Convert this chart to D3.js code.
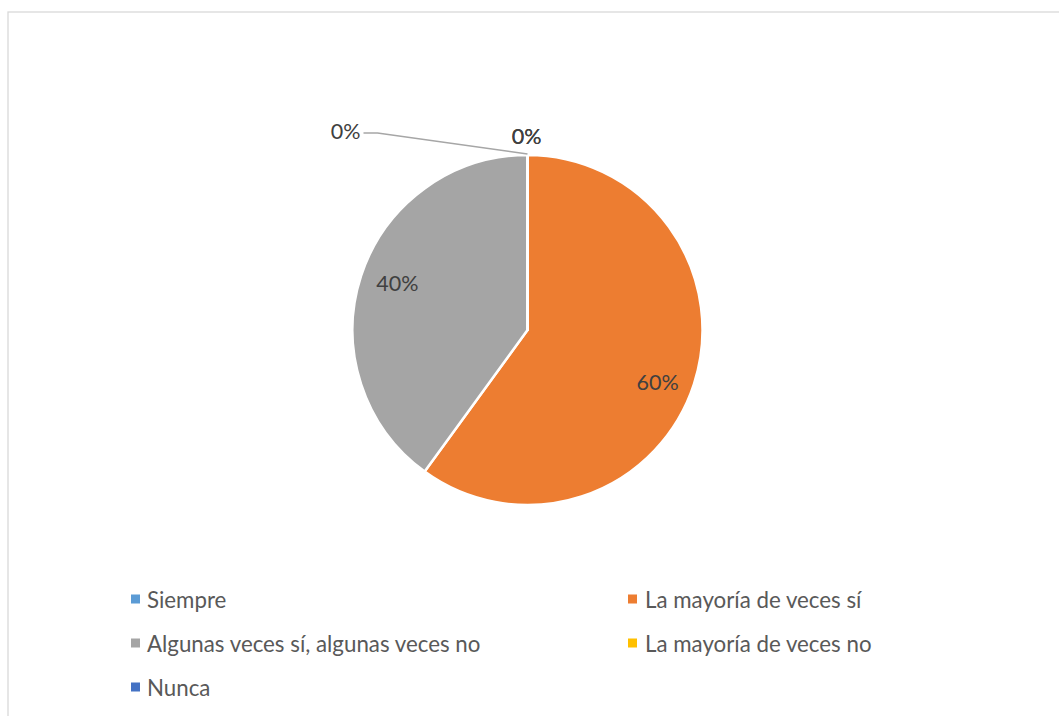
<!DOCTYPE html>
<html><head><meta charset="utf-8">
<script src="https://cdn.jsdelivr.net/npm/d3@7"></script>
<style>
html,body{margin:0;padding:0;background:#fff;}
svg{display:block;}
text{font-family:Lato, "Open Sans", sans-serif;}
</style></head>
<body>
<svg id="chart" width="1059" height="716"></svg>
<script>
const categories = ["Siempre","La mayoría de veces sí","Algunas veces sí, algunas veces no","La mayoría de veces no","Nunca"];
const values = [0, 60, 40, 0, 0];
const labels = ["0%","60%","40%","0%","0%"];
const colors = ["#5B9BD5","#ED7D31","#A5A5A5","#FFC000","#4472C4"];

const svg = d3.select("#chart");
const W = 1059, H = 716;

// frame
svg.append("rect").attr("x",8).attr("y",12).attr("width",W+10).attr("height",H+10)
  .attr("fill","#fff").attr("stroke","#D9D9D9").attr("stroke-width",1.3);

const cx = 527.5, cy = 330, R = 175;
const pie = d3.pie().value(d=>d).sort(null);
const arcs = pie(values);
const arc = d3.arc().innerRadius(0).outerRadius(R);
const g = svg.append("g").attr("transform",`translate(${cx},${cy})`);

g.selectAll("path").data(arcs).enter().append("path")
  .attr("d",arc).attr("fill",(d,i)=>colors[i])
  .attr("stroke","#fff").attr("stroke-width",2.5).attr("stroke-linejoin","round");

const fs = 21.5;
const labelArc = d3.arc().innerRadius(140).outerRadius(140);
// inside labels for non-zero slices (best-fit nudge)
const nudge = {1:[-3,9],2:[3,-4]};
arcs.forEach((a,i)=>{
  if(values[i]>0){
    const c = labelArc.centroid(a);
    const n = nudge[i]||[0,0];
    g.append("text").attr("x",c[0]+n[0]).attr("y",c[1]+n[1])
      .attr("text-anchor","middle").attr("dominant-baseline","central")
      .attr("font-size",fs).attr("fill","#404040").text(labels[i]);
  }
});
// zero slices: outside labels
const outArc = d3.arc().innerRadius(R+18).outerRadius(R+18);
[0,3].forEach(i=>{
  const c = outArc.centroid(arcs[i]);
  g.append("text").attr("x",c[0]-1).attr("y",c[1]-1)
    .attr("text-anchor","middle").attr("dominant-baseline","central")
    .attr("font-size",fs).attr("fill","#404040").text(labels[i]);
});
// moved label with leader line (Nunca)
{
  const i = 4;
  const p0 = d3.arc().innerRadius(R).outerRadius(R).centroid(arcs[i]);
  const lx = -182, ly = -197;
  g.append("polyline")
    .attr("points",`${p0[0]},${p0[1]-1} ${lx+32},${ly} ${lx+18},${ly}`)
    .attr("fill","none").attr("stroke","#A6A6A6").attr("stroke-width",1.5);
  g.append("text").attr("x",lx+15).attr("y",ly-2)
    .attr("text-anchor","end").attr("dominant-baseline","central")
    .attr("font-size",fs).attr("fill","#404040").text(labels[i]);
}

// legend
const legX = [131, 628], legTextX = [147, 645];
const rowY = [599, 643, 687];
const leg = svg.append("g");
categories.forEach((c,i)=>{
  const col = i%2, row = Math.floor(i/2);
  leg.append("rect").attr("x",legX[col]).attr("y",rowY[row]-4.5)
    .attr("width",9).attr("height",9).attr("fill",colors[i]);
  leg.append("text").attr("x",legTextX[col]).attr("y",rowY[row])
    .attr("dominant-baseline","central").attr("font-size",22.3).attr("fill","#595959").text(c);
});
</script>
</body></html>
